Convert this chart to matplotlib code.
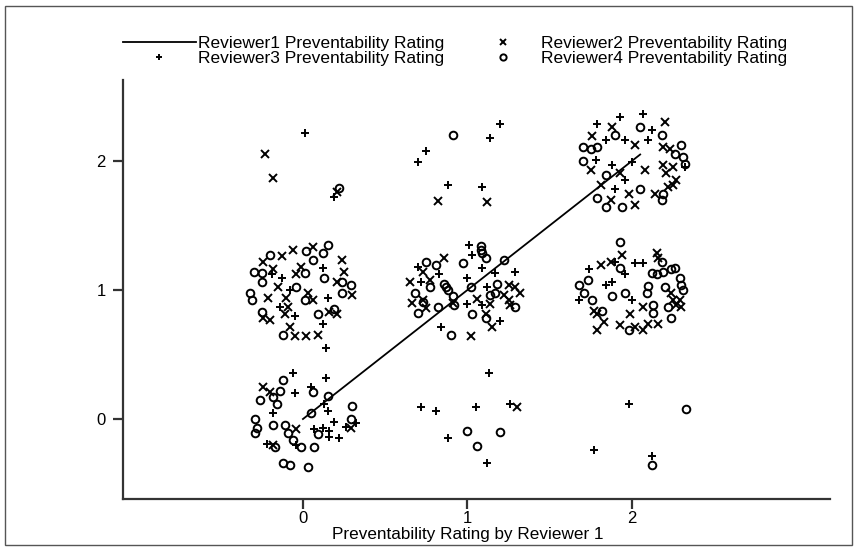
import matplotlib
matplotlib.use('Agg')
import numpy as np
import matplotlib.pyplot as plt
from matplotlib.lines import Line2D
from matplotlib.patches import Rectangle

plt.rcParams['font.family'] = ['Liberation Sans', 'DejaVu Sans']

# regression line for reviewer 1 (identity)
fit_x = [0.0, 2.05]
fit_y = [0.0, 2.05]

# reviewer 2 ratings (jittered), marker 'x'
rev2 = [(-0.23, 2.05), (-0.18, 1.87), (0.21, 1.76), (0.82, 1.69), (1.12, 1.68), (1.30, 0.09),
        (-0.13, 1.26), (-0.06, 1.31), (0.06, 1.33), (-0.24, 1.22), (-0.18, 1.16), (-0.04, 1.12),
        (-0.01, 1.18), (0.24, 1.23), (0.25, 1.14), (0.21, 1.06), (0.30, 0.96), (-0.21, 0.94),
        (-0.15, 1.02), (-0.10, 0.94), (0.03, 0.98), (0.06, 0.92), (-0.09, 0.87), (-0.24, 0.78),
        (-0.20, 0.77), (-0.11, 0.81), (0.16, 0.83), (0.21, 0.81), (-0.08, 0.71), (-0.05, 0.64),
        (0.02, 0.64), (0.09, 0.65),
        (-0.24, 0.25), (-0.20, 0.21), (0.29, -0.07), (-0.04, -0.08), (-0.18, -0.20),
        (0.86, 1.25), (0.73, 1.14), (0.77, 1.08), (1.25, 1.04), (1.29, 1.02), (1.32, 0.98),
        (1.22, 0.96), (0.73, 0.92), (1.06, 0.93), (1.14, 0.89), (1.25, 0.92), (1.26, 0.88),
        (0.75, 0.86), (0.91, 0.90), (1.11, 0.81), (1.15, 0.71), (1.02, 0.64), (0.65, 1.06),
        (0.66, 0.90),
        (2.15, 1.29), (2.16, 1.25), (2.24, 0.98), (2.25, 0.92), (2.29, 0.92), (2.30, 0.87),
        (2.27, 0.88), (2.07, 0.87), (2.10, 0.74), (2.16, 0.74), (1.81, 1.19), (1.79, 0.81),
        (1.87, 1.22), (1.94, 1.27), (1.77, 0.84), (1.93, 0.73), (1.83, 0.75), (1.79, 0.69),
        (1.99, 0.81), (2.02, 0.71), (2.07, 0.69),
        (2.20, 2.30), (2.19, 2.11), (2.23, 2.09), (2.19, 1.97), (2.25, 1.95), (2.21, 1.91),
        (2.27, 1.85), (2.25, 1.81), (2.22, 1.80), (1.76, 2.19), (1.88, 2.26), (2.02, 2.12),
        (1.75, 1.93), (1.93, 1.91), (2.08, 1.93), (1.81, 1.81), (1.87, 1.70), (1.98, 1.74),
        (2.14, 1.74), (2.02, 1.66)]

# reviewer 3 ratings, marker '+'
rev3 = [(0.01, 2.22), (0.19, 1.72), (0.70, 1.99), (0.75, 2.08), (1.14, 2.18), (1.20, 2.29),
        (0.88, 1.81), (1.09, 1.80), (0.72, 0.09), (0.81, 0.06), (1.05, 0.09), (1.26, 0.12),
        (1.13, 0.36), (0.88, -0.15), (1.12, -0.34), (1.77, -0.24), (2.12, -0.29), (1.98, 0.12),
        (-0.19, 1.12), (-0.13, 1.09), (0.12, 1.17), (-0.08, 1.00), (0.15, 0.94), (-0.14, 0.87),
        (-0.05, 0.80), (0.12, 0.74),
        (-0.06, 0.36), (0.14, 0.32), (-0.05, 0.20), (0.05, 0.25), (0.13, 0.12), (-0.18, 0.05),
        (0.15, 0.06), (0.19, -0.02), (0.32, -0.03), (0.26, -0.06), (0.07, -0.08), (0.12, -0.07),
        (0.16, -0.09), (0.16, -0.14), (0.22, -0.15), (-0.22, -0.19), (-0.04, -0.20), (0.14, 0.55),
        (1.01, 1.35), (1.03, 1.27), (1.09, 1.17), (1.29, 1.14), (0.83, 1.12), (1.00, 1.09),
        (1.17, 1.13), (0.72, 1.06), (1.12, 1.02), (1.09, 0.88), (1.00, 0.89), (1.20, 0.76),
        (0.84, 0.71), (0.70, 1.18),
        (2.07, 1.21), (1.74, 1.16), (1.84, 1.04), (1.96, 1.12), (2.00, 0.92), (1.68, 0.92),
        (2.02, 1.21), (1.88, 1.06), (1.90, 1.22),
        (1.93, 2.34), (2.07, 2.36), (1.79, 2.29), (2.12, 2.24), (1.84, 2.16), (1.96, 2.16),
        (2.10, 2.16), (1.78, 2.01), (1.88, 1.97), (2.00, 1.99), (1.96, 1.85), (1.90, 1.78),
        (2.32, 1.95)]

# reviewer 4 ratings, marker 'o'
rev4 = [(0.22, 1.79), (0.91, 2.20), (1.00, -0.09), (1.06, -0.21), (1.20, -0.10), (2.12, -0.36),
        (2.33, 0.08),
        (-0.20, 1.27), (0.02, 1.30), (0.12, 1.29), (0.15, 1.35), (0.06, 1.23), (-0.30, 1.14),
        (-0.25, 1.13), (-0.25, 1.06), (0.01, 1.13), (0.13, 1.09), (0.24, 1.06), (0.29, 1.04),
        (0.24, 0.98), (-0.32, 0.98), (-0.31, 0.92), (-0.04, 1.02), (0.01, 0.92), (-0.25, 0.83),
        (0.09, 0.81), (0.19, 0.85), (-0.12, 0.65),
        (-0.12, 0.30), (-0.14, 0.22), (0.06, 0.21), (0.15, 0.18), (-0.26, 0.15), (-0.18, 0.17),
        (-0.16, 0.12), (0.30, 0.10), (0.05, 0.05), (-0.29, 0.00), (-0.18, -0.05), (-0.11, -0.05),
        (0.29, 0.00), (-0.28, -0.07), (-0.29, -0.11), (-0.09, -0.11), (0.09, -0.12), (-0.06, -0.16),
        (-0.17, -0.22), (-0.01, -0.22), (0.07, -0.22), (-0.12, -0.34), (-0.08, -0.36), (0.03, -0.37),
        (1.08, 1.34), (1.08, 1.31), (1.09, 1.29), (1.11, 1.25), (0.75, 1.22), (0.97, 1.21),
        (0.81, 1.19), (1.22, 1.23), (1.18, 1.05), (0.86, 1.05), (0.77, 1.02), (0.87, 1.02),
        (0.88, 1.00), (1.02, 1.02), (1.17, 0.98), (1.14, 0.96), (0.91, 0.95), (0.73, 0.91),
        (1.29, 0.87), (0.92, 0.88), (0.82, 0.87), (1.03, 0.81), (1.11, 0.78), (0.90, 0.65),
        (0.68, 0.98), (0.70, 0.82),
        (2.18, 1.22), (2.19, 1.14), (2.24, 1.16), (2.26, 1.17), (2.12, 1.13), (2.15, 1.12),
        (2.29, 1.09), (2.30, 1.04), (2.31, 1.00), (2.10, 1.03), (2.09, 0.98), (2.20, 1.02),
        (2.22, 0.87), (2.13, 0.88), (2.13, 0.82), (2.24, 0.78), (1.93, 1.37), (1.68, 1.04),
        (1.76, 0.92), (1.93, 1.17), (1.73, 1.08), (1.88, 0.95), (1.98, 0.69), (1.82, 0.84),
        (1.71, 0.98), (1.96, 0.98),
        (2.18, 2.20), (2.30, 2.12), (2.26, 2.05), (2.31, 2.03), (2.32, 1.98), (2.19, 1.74),
        (2.18, 1.70), (1.70, 2.11), (1.75, 2.09), (1.79, 2.11), (2.05, 2.26), (1.90, 2.20),
        (1.70, 2.00), (1.84, 1.89), (1.79, 1.71), (2.05, 1.78), (1.84, 1.64), (1.94, 1.64)]

labels = ['Reviewer1 Preventability Rating', 'Reviewer2 Preventability Rating',
          'Reviewer3 Preventability Rating', 'Reviewer4 Preventability Rating']
ticks = [0, 1, 2]

fig = plt.figure(figsize=(8.57, 5.5), dpi=100)
ax = fig.add_axes([0.1435, 0.0927, 0.825, 0.762])

ax.plot(fit_x, fit_y, color='black', lw=1.3)
for pts, m, ms in [(rev2, 'x', 5.2), (rev3, '+', 6), (rev4, 'o', 5.5)]:
    arr = np.array(pts)
    ax.plot(arr[:, 0], arr[:, 1], ls='none', marker=m, ms=ms, mew=1.4,
            mfc='none', mec='black')

ax.set_xlim(-1.094, 3.204)
ax.set_ylim(-0.62, 2.628)
ax.set_xticks(ticks)
ax.set_yticks(ticks)
for s in ['top', 'right']:
    ax.spines[s].set_visible(False)
for s in ['left', 'bottom']:
    ax.spines[s].set_linewidth(1.6)
    ax.spines[s].set_color('#333333')
ax.tick_params(direction='out', length=7.5, width=1.6, color='#333333', labelsize=12)
ax.tick_params(axis='x', pad=1)
ax.tick_params(axis='y', pad=5)
ax.set_xlabel('Preventability Rating by Reviewer 1', fontsize=12.3)
ax.xaxis.set_label_coords(0.488, -0.067)

handles = [Line2D([], [], color='black', lw=1.3),
           Line2D([], [], ls='none', marker='+', ms=5, mew=1.4, color='black'),
           Line2D([], [], ls='none', marker='x', ms=4.5, mew=1.4, color='black'),
           Line2D([], [], ls='none', marker='o', ms=4.5, mew=1.4, mfc='none', mec='black')]
leg_labels = [labels[0], labels[2], labels[1], labels[3]]
fig.legend(handles, leg_labels, ncol=2, loc='upper left',
           bbox_to_anchor=(123 / 857, 1 - 36 / 550), frameon=False, fontsize=12.5,
           handlelength=4.2, handletextpad=0.1, columnspacing=1.3,
           labelspacing=0.0, borderaxespad=0, borderpad=0)

fig.patches.append(Rectangle((0.006, 0.01), 0.988, 0.98, transform=fig.transFigure,
                             fill=False, edgecolor='#555555', lw=1))

fig.savefig('out.png', dpi=100)
